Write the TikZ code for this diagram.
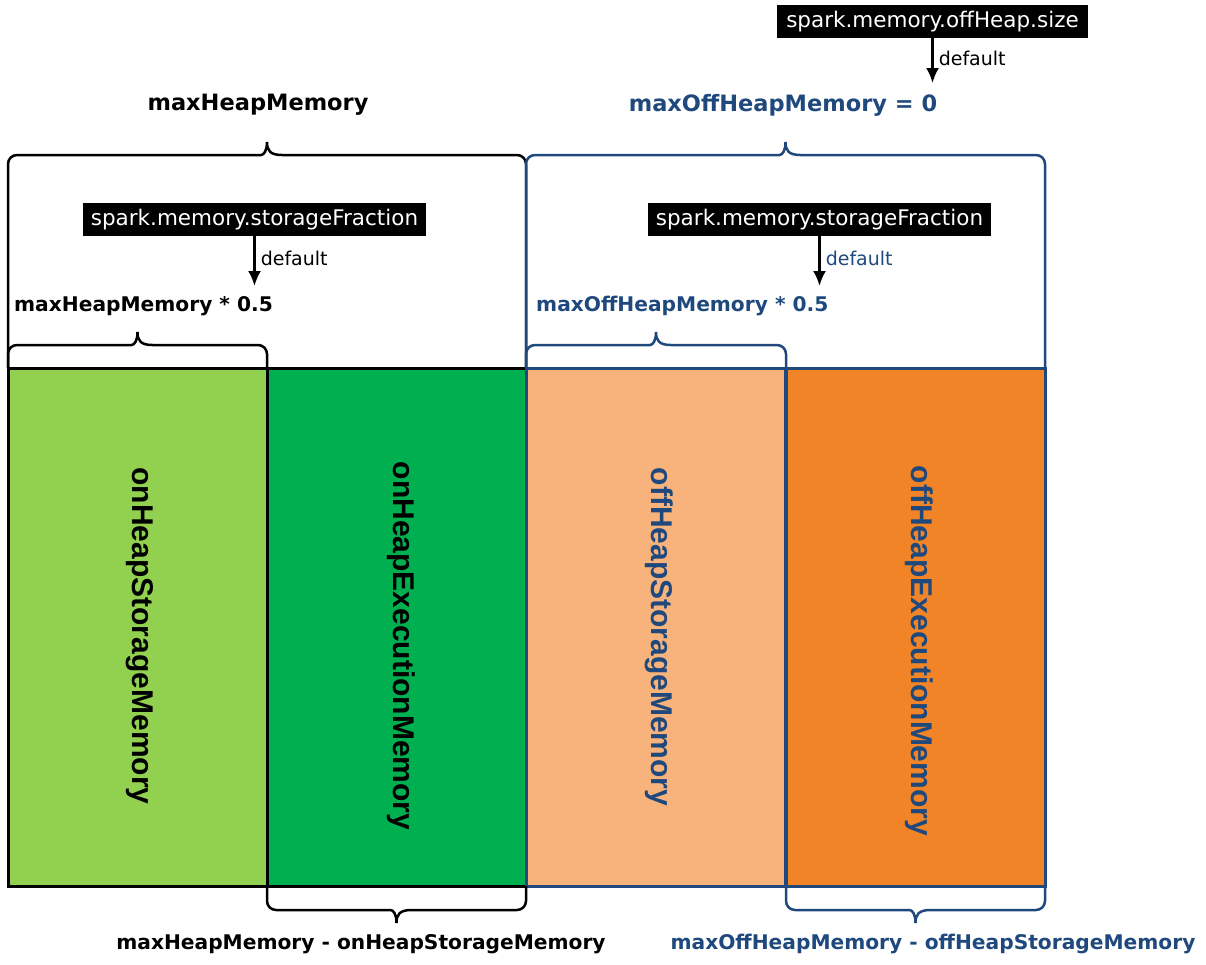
\documentclass[tikz,border=0pt]{standalone}
\usepackage{fontspec}
\setmainfont{DejaVu Sans}
\newfontfamily\arialfont{Liberation Sans}
\usetikzlibrary{positioning,arrows.meta}
\definecolor{heapblue}{HTML}{1F497D}
\definecolor{storagegreen}{HTML}{92D050}
\definecolor{execgreen}{HTML}{00B050}
\definecolor{storageorange}{HTML}{F7B37B}
\definecolor{execorange}{HTML}{F08427}

\newcommand{\capbrace}[6]{%
  \draw[#1] (#2,#4) [rounded corners=9pt] -- (#2,#5) -- ({(#2+#3)/2-15},#5) [sharp corners]
    .. controls ({(#2+#3)/2-3},#5) and ({(#2+#3)/2},{#5+0.35*(#6-#5)}) .. ({(#2+#3)/2},#6)
    .. controls ({(#2+#3)/2},{#5+0.35*(#6-#5)}) and ({(#2+#3)/2+3},#5) .. ({(#2+#3)/2+15},#5)
    [rounded corners=9pt] -- (#3,#5) -- (#3,#4);}

\begin{document}
\begin{tikzpicture}[x=1pt,y=-1pt]
  \tikzstyle{membox}=[rectangle, draw, line width=3pt, minimum width=259pt, minimum height=518pt, inner sep=0pt]
  \tikzstyle{memname}=[font=\arialfont\bfseries\fontsize{30}{30}\selectfont, rotate=-90]
  \tikzstyle{bigsum}=[font=\bfseries\fontsize{22.5}{24}\selectfont, inner sep=0pt]
  \tikzstyle{halfsum}=[font=\bfseries\fontsize{20.2}{22}\selectfont, inner sep=0pt]
  \tikzstyle{confbox}=[fill=black, text=white, font=\fontsize{21.5}{23}\selectfont, inner xsep=9pt, minimum height=33pt]
  \tikzstyle{deflabel}=[font=\fontsize{19}{21}\selectfont, inner sep=0pt]
  \tikzstyle{setarrow}=[-{Latex[length=15pt,width=13pt]}, line width=2.5pt]
  \tikzstyle{onbrace}=[line width=2.5pt, black]
  \tikzstyle{offbrace}=[line width=2.5pt, heapblue]

  \useasboundingbox (0,0) rectangle (1206,964);

  \node[membox, fill=storagegreen] (M_onstore) at (137.5,627) {};
  \node[membox, fill=execgreen] (M_onexec) at (396.5,627) {};
  \node[membox, fill=storageorange, draw=heapblue] (M_offstore) at (656,627) {};
  \node[membox, fill=execorange, draw=heapblue] (M_offexec) at (915.5,627) {};

  \node[memname] (T_onstore) at (140,636) {onHeapStorageMemory};
  \node[memname] (T_onexec) at (401,646) {onHeapExecutionMemory};
  \node[memname, heapblue] (T_offstore) at (659,637) {offHeapStorageMemory};
  \node[memname, heapblue] (T_offexec) at (919,651) {offHeapExecutionMemory};

  \capbrace{onbrace}{8}{526}{368}{155}{142}
  \capbrace{offbrace}{526}{1045}{368}{155}{142}
  \capbrace{onbrace}{8}{267}{368}{345}{332}
  \capbrace{offbrace}{526}{786}{368}{345}{332}
  \capbrace{onbrace}{267}{526}{886}{910}{923}
  \capbrace{offbrace}{786}{1045}{886}{910}{923}

  \node[bigsum] (S_onmax) at (258,105) {maxHeapMemory};
  \node[bigsum, heapblue] (S_offmax) at (783,105) {maxOffHeapMemory = 0};
  \node[halfsum, anchor=west] (S_onhalf) at (14,306) {maxHeapMemory * 0.5};
  \node[halfsum, anchor=west, heapblue] (S_offhalf) at (536,306) {maxOffHeapMemory * 0.5};
  \node[halfsum] (S_onexec) at (361,944) {maxHeapMemory - onHeapStorageMemory};
  \node[halfsum, heapblue] (S_offexec) at (933,944) {maxOffHeapMemory - offHeapStorageMemory};

  \node[confbox] (C_offsize) at (932.5,21.5) {spark.memory.offHeap.size};
  \node[confbox, inner xsep=8pt] (C_onfrac) at (254.5,219.5) {spark.memory.storageFraction};
  \node[confbox, inner xsep=8pt] (C_offfrac) at (819.5,219.5) {spark.memory.storageFraction};

  \coordinate (A_offsize) at (932.5,83);
  \coordinate (A_onfrac) at (254.5,286);
  \coordinate (A_offfrac) at (819.5,286);

  \draw[setarrow] (C_offsize) -- (A_offsize) node[deflabel, pos=0.45, anchor=west, xshift=5pt] (D_offsize) {default};
  \draw[setarrow] (C_onfrac) -- (A_onfrac) node[deflabel, pos=0.45, anchor=west, xshift=5pt] (D_onfrac) {default};
  \draw[setarrow] (C_offfrac) -- (A_offfrac) node[deflabel, pos=0.45, anchor=west, xshift=5pt, heapblue] (D_offfrac) {default};
\end{tikzpicture}
\end{document}
